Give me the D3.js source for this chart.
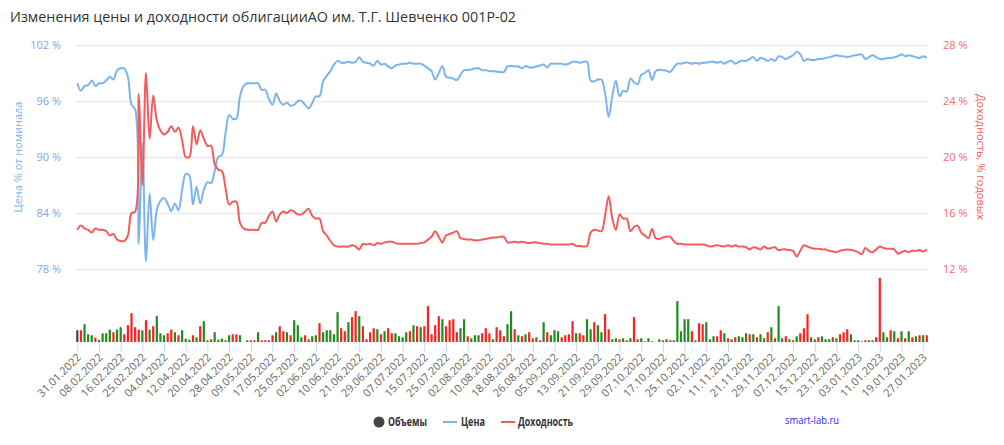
<!DOCTYPE html>
<html><head><meta charset="utf-8">
<script src="https://cdn.jsdelivr.net/npm/d3@7"></script>
<style>
html,body{margin:0;padding:0;background:#fff;}
svg{display:block;font-family:"Open Sans",sans-serif;}
</style></head>
<body><svg id="c" width="1004" height="445"></svg>
<script>
const titleText = "Изменения цены и доходности облигацииАО им. Т.Г. Шевченко 001P-02";
const xTickLabels = ["31.01.2022","08.02.2022","16.02.2022","25.02.2022","04.04.2022","12.04.2022","20.04.2022","28.04.2022","09.05.2022","17.05.2022","25.05.2022","02.06.2022","10.06.2022","21.06.2022","29.06.2022","07.07.2022","15.07.2022","25.07.2022","02.08.2022","10.08.2022","18.08.2022","26.08.2022","05.09.2022","13.09.2022","21.09.2022","29.09.2022","07.10.2022","17.10.2022","25.10.2022","02.11.2022","11.11.2022","21.11.2022","29.11.2022","07.12.2022","15.12.2022","23.12.2022","03.01.2023","11.01.2023","19.01.2023","27.01.2023"];
const tickEvery = 6;
const priceTicks = [78, 84, 90, 96, 102];
const yieldTicks = [12, 16, 20, 24, 28];
const legendNames = ["Объемы", "Цена", "Доходность"];

const price = [
97.9,97.1,97.6,97.7,98.2,97.6,97.9,97.9,98.2,98.6,
98.3,99.3,99.5,99.5,98.6,95.6,95.1,80.7,91.5,78.8,
86.1,81.1,84.3,85.3,85.6,85.0,84.2,85.0,84.3,86.5,
88.2,88.0,84.9,86.8,85.0,86.5,87.3,87.2,88.5,90.0,
90.2,92.5,94.5,94.1,94.1,96.5,97.6,97.9,97.9,97.9,
97.9,97.2,97.2,96.2,95.6,96.8,96.0,95.6,95.8,95.5,
95.6,96.0,96.0,95.6,95.2,95.8,96.5,96.5,98.1,98.7,
99.2,99.9,100.3,100.1,100.1,100.2,100.1,100.2,100.7,100.2,
100.1,100.0,99.8,100.3,99.9,100.0,99.7,99.5,99.8,99.9,
100.0,100.0,100.1,100.0,100.0,100.0,99.8,99.5,99.2,98.3,
99.0,99.75,98.6,98.5,98.4,98.25,98.8,99.3,99.3,99.4,
99.5,99.5,99.3,99.3,99.2,99.2,99.15,99.1,99.1,99.7,
99.75,99.7,99.7,99.5,99.75,99.6,99.6,99.7,99.8,99.9,
99.6,100.0,100.0,100.0,100.0,99.9,100.0,100.2,100.2,100.1,
100.2,100.2,98.2,98.1,98.3,98.3,96.8,94.3,96.5,98.2,
96.5,97.1,97.0,98.4,98.0,97.8,98.8,99.0,99.3,98.25,
99.2,99.35,99.3,99.25,99.1,99.6,100.0,100.0,100.1,100.1,
100.0,100.1,100.0,100.1,100.1,100.2,100.2,100.1,100.2,100.0,
100.2,100.3,100.0,100.2,100.3,100.3,100.5,100.7,100.3,100.6,
100.5,100.3,100.5,100.3,100.8,100.7,100.5,100.7,100.9,101.3,
101.0,100.3,100.5,100.4,100.4,100.5,100.5,100.6,100.7,100.8,
100.9,100.8,100.8,100.7,100.8,100.9,100.95,101.0,100.5,100.7,
100.9,100.7,100.5,100.5,100.6,100.6,100.7,100.8,101.0,100.8,
100.9,100.8,100.7,100.6,100.8,100.6];

const yieldPct = [
14.8,15.1,14.9,14.8,14.6,14.9,14.8,14.8,14.7,14.4,
14.5,14.1,14.0,14.0,14.4,16.0,16.1,24.5,18.0,26.0,
21.3,24.4,22.6,21.9,21.6,21.8,22.2,21.8,22.1,21.2,
20.0,20.0,22.2,20.9,21.9,21.3,20.8,20.8,19.5,19.1,
19.0,17.8,16.6,16.8,16.8,15.3,14.9,14.8,14.8,14.8,
14.8,15.3,15.3,15.8,16.1,15.4,15.9,16.1,16.0,16.2,
16.1,15.9,15.9,16.1,16.3,15.8,15.6,15.6,14.7,14.4,
14.0,13.7,13.6,13.6,13.6,13.6,13.7,13.6,13.4,13.8,
13.75,13.8,13.7,13.85,13.8,13.9,13.95,13.95,13.85,13.8,
13.8,13.8,13.8,13.8,13.8,13.85,13.9,14.1,14.3,14.7,
14.3,13.9,14.4,14.5,14.6,14.7,14.2,14.15,14.1,14.1,
14.05,14.05,14.1,14.15,14.2,14.25,14.25,14.3,14.3,13.9,
13.9,13.95,13.9,13.95,13.9,13.85,13.9,13.9,13.85,13.8,
13.8,13.75,13.75,13.75,13.75,13.75,13.75,13.8,13.65,13.65,
13.6,13.65,14.6,14.8,14.75,14.7,15.8,17.2,15.6,14.8,
15.9,15.6,15.6,14.7,15.0,15.1,14.6,14.4,14.2,14.85,
14.2,14.15,14.25,14.3,14.3,14.0,13.8,13.8,13.75,13.75,
13.75,13.75,13.75,13.75,13.7,13.6,13.65,13.7,13.65,13.6,
13.7,13.6,13.7,13.6,13.6,13.55,13.4,13.55,13.5,13.4,
13.6,13.45,13.5,13.55,13.35,13.4,13.4,13.35,13.3,12.9,
13.3,13.7,13.6,13.5,13.45,13.45,13.4,13.4,13.3,13.25,
13.2,13.3,13.35,13.4,13.35,13.3,13.2,13.05,13.5,13.3,
13.2,13.4,13.6,13.5,13.45,13.45,13.4,13.1,13.2,13.3,
13.2,13.3,13.3,13.35,13.25,13.4];

const volume = [
11.7,11.7,17.7,7.7,6.7,4.3,2.3,8.7,8.7,12.3,
9.7,12.3,14.7,7.7,16.7,28.7,14.7,12.3,11.7,21.7,
12.3,15.7,25.7,8.7,6.7,8.7,12.3,9.7,6.7,11.7,
3.3,2.3,6.7,4.7,15.7,20.7,1.7,2.7,9.7,2.3,
3.3,1.7,6.7,7.7,7.7,6.7,0,1.7,1.7,1.7,
9.7,1.7,1.7,1.7,6.7,9.7,15.7,10.7,9.7,6.7,
21.7,16.7,4.7,6.7,2.7,5.7,6.7,18.7,9.7,11.7,
11.7,7.7,29.7,13.7,10.7,19.7,24.7,30.7,25.7,15.7,
2.7,9.7,13.7,12.7,7.7,10.7,13.7,8.7,8.7,5.7,
4.7,9.7,10.7,16.7,15.7,14.7,15.7,35.7,7.7,16.7,
25.7,22.7,15.7,21.7,22.7,9.7,13.7,22.7,5.7,3.7,
6.7,6.7,8.7,13.7,8.7,2.7,14.7,11.7,5.7,17.7,
30.7,12.7,6.7,5.7,7.7,9.7,3.7,4.7,1.7,19.7,
9.7,6.7,11.7,10.7,4.7,6.7,7.7,20.7,8.7,8.7,
6.7,22.7,12.7,19.7,16.7,9.7,27.7,12.7,2.7,3.7,
2.7,3.7,1.7,3.7,24.7,2.7,3.7,0.7,3.7,0.7,
0,2.7,1.7,2.7,1.7,1.7,40.7,10.7,22.7,22.7,
10.7,1.7,18.7,17.7,19.7,2.7,5.7,5.7,11.7,8.7,
3.7,2.7,4.7,5.7,4.7,8.7,7.7,7.7,4.7,7.7,
3.7,9.7,14.7,3.7,35.7,3.7,5.7,2.7,1.7,5.7,
8.7,13.7,27.7,4.7,2.7,4.7,5.7,2.7,2.7,4.7,
3.7,7.7,9.7,12.7,7.7,1.7,1.7,0.7,1.7,1.7,
1.7,4.7,63.7,9.7,4.7,11.7,10.7,3.7,10.7,3.7,
10.7,4.7,5.7,6.7,6.7,6.7];

// 1 = price up (green), -1 = price down (red), 0 = no change
const volumeDir = [
0,-1,1,1,1,-1,1,1,1,1,
-1,1,1,-1,-1,-1,-1,-1,1,-1,
1,-1,1,1,1,-1,-1,1,-1,1,
1,1,-1,1,-1,1,1,-1,1,1,
1,1,1,-1,-1,1,0,1,-1,-1,
1,-1,-1,-1,-1,1,-1,-1,1,-1,
1,1,1,-1,-1,1,1,-1,1,1,
1,1,1,-1,-1,1,-1,-1,1,-1,
-1,-1,-1,1,-1,1,-1,-1,1,1,
1,1,-1,1,-1,1,-1,-1,-1,-1,
-1,1,-1,-1,-1,-1,1,1,-1,1,
1,1,-1,-1,-1,1,-1,-1,-1,1,
1,-1,1,-1,1,-1,-1,1,-1,1,
-1,1,1,1,-1,-1,-1,-1,1,-1,
-1,1,1,-1,1,1,-1,-1,1,1,
-1,1,-1,1,-1,-1,1,1,1,-1,
0,1,-1,1,-1,1,1,1,1,1,
-1,1,-1,-1,1,1,1,-1,-1,1,
-1,1,-1,1,1,1,-1,1,-1,1,
1,-1,1,-1,1,1,-1,1,-1,1,
-1,-1,-1,1,-1,-1,1,1,1,-1,
1,-1,-1,-1,1,1,1,1,-1,1,
1,-1,-1,1,1,-1,1,-1,1,-1,
1,-1,1,-1,1,-1];

const svg = d3.select("#c");
const plotL = 76, plotR = 929;
const idx = d3.range(price.length);

const x = d3.scaleLinear().domain([0, price.length - 1]).range([77.3, 926.8]);
const yP = d3.scaleLinear().domain([78, 102]).range([269, 45]);
const yY = d3.scaleLinear().domain([12, 28]).range([269, 45]);
const yV = d3.scaleLinear().domain([0, d3.max(volume)]).range([342, 278]);

// title
svg.append("text").attr("x", 10).attr("y", 22)
  .attr("font-size", 15).attr("fill", "#333")
  .attr("textLength", 506).attr("lengthAdjust", "spacingAndGlyphs")
  .text(titleText);

// gridlines
svg.append("g").selectAll("line").data(priceTicks).join("line")
  .attr("x1", plotL).attr("x2", plotR)
  .attr("y1", d => Math.round(yP(d)) + 0.5).attr("y2", d => Math.round(yP(d)) + 0.5)
  .attr("stroke", "#e6e6e6").attr("stroke-width", 1);

// left axis
const leftAxis = d3.axisLeft(yP).tickValues(priceTicks).tickSize(0).tickPadding(0)
  .tickFormat(d => d + " %");
const gl = svg.append("g").attr("transform", "translate(61,0)").call(leftAxis);
gl.select(".domain").remove();
gl.selectAll("text").attr("fill", "#7fa6e8").attr("font-size", 11).attr("font-family", "Open Sans, sans-serif");

// right axis
const rightAxis = d3.axisRight(yY).tickValues(yieldTicks).tickSize(0).tickPadding(0)
  .tickFormat(d => d + " %");
const gr = svg.append("g").attr("transform", "translate(943,0)").call(rightAxis);
gr.select(".domain").remove();
gr.selectAll("text").attr("fill", "#f36a6a").attr("font-size", 11).attr("font-family", "Open Sans, sans-serif");

// axis titles
svg.append("text").attr("transform", "translate(22,157) rotate(-90)")
  .attr("text-anchor", "middle").attr("font-size", 11).attr("fill", "#7cb5ec")
  .text("Цена % от номинала");
svg.append("text").attr("transform", "translate(977,157) rotate(90)")
  .attr("text-anchor", "middle").attr("font-size", 11).attr("fill", "#f45b5b")
  .text("Доходность, % годовых");

// volume bars
const dirColor = d => d > 0 ? "#1e8c1e" : (d < 0 ? "#ff1f1f" : "#434348");
svg.append("g").selectAll("rect").data(idx).join("rect")
  .attr("x", i => x(i) - 1.1).attr("width", 2.2)
  .attr("y", i => yV(volume[i])).attr("height", i => yV(0) - yV(volume[i]))
  .attr("fill", i => dirColor(volumeDir[i]));

// x axis
const tickIdx = xTickLabels.map((_, k) => k * tickEvery);
const xAxis = d3.axisBottom(x).tickValues(tickIdx).tickSize(10).tickPadding(0)
  .tickFormat((d, k) => xTickLabels[k]);
const gx = svg.append("g").attr("transform", "translate(0,342)").call(xAxis);
gx.select(".domain").remove();
gx.selectAll(".tick line").attr("stroke", "#ccd6eb");
gx.selectAll("text").attr("fill", "#666").attr("font-size", 11)
  .attr("font-family", "Open Sans, sans-serif")
  .attr("text-anchor", "end").attr("dy", 0).attr("y", 0)
  .attr("transform", "translate(4,16) rotate(-45)");

// lines
const curve = d3.curveCatmullRom.alpha(0.5);
const lineP = d3.line().x(i => x(i)).y(i => yP(price[i])).curve(curve);
const lineY = d3.line().x(i => x(i)).y(i => yY(yieldPct[i])).curve(curve);
svg.append("path").attr("d", lineP(idx)).attr("fill", "none")
  .attr("stroke", "#7cb5ec").attr("stroke-width", 2).attr("stroke-linejoin", "round");
svg.append("path").attr("d", lineY(idx)).attr("fill", "none")
  .attr("stroke", "#f45b5b").attr("stroke-width", 2).attr("stroke-linejoin", "round");

// legend
const lg = svg.append("g").attr("font-size", 11.5).attr("font-weight", "bold").attr("fill", "#333");
lg.append("circle").attr("cx", 379).attr("cy", 422).attr("r", 5.5).attr("fill", "#434348");
lg.append("text").attr("x", 388).attr("y", 426).attr("textLength", 39)
  .attr("lengthAdjust", "spacingAndGlyphs").text(legendNames[0]);
lg.append("line").attr("x1", 443).attr("x2", 457).attr("y1", 422).attr("y2", 422)
  .attr("stroke", "#7cb5ec").attr("stroke-width", 2);
lg.append("text").attr("x", 461).attr("y", 426).attr("textLength", 24)
  .attr("lengthAdjust", "spacingAndGlyphs").text(legendNames[1]);
lg.append("line").attr("x1", 501).attr("x2", 515).attr("y1", 422).attr("y2", 422)
  .attr("stroke", "#f45b5b").attr("stroke-width", 2);
lg.append("text").attr("x", 518).attr("y", 426).attr("textLength", 55)
  .attr("lengthAdjust", "spacingAndGlyphs").text(legendNames[2]);

// credits
svg.append("text").attr("x", 785).attr("y", 424)
  .attr("font-size", 11).attr("fill", "#2a2aff")
  .attr("textLength", 54).attr("lengthAdjust", "spacingAndGlyphs").text("smart-lab.ru");
</script></body></html>
